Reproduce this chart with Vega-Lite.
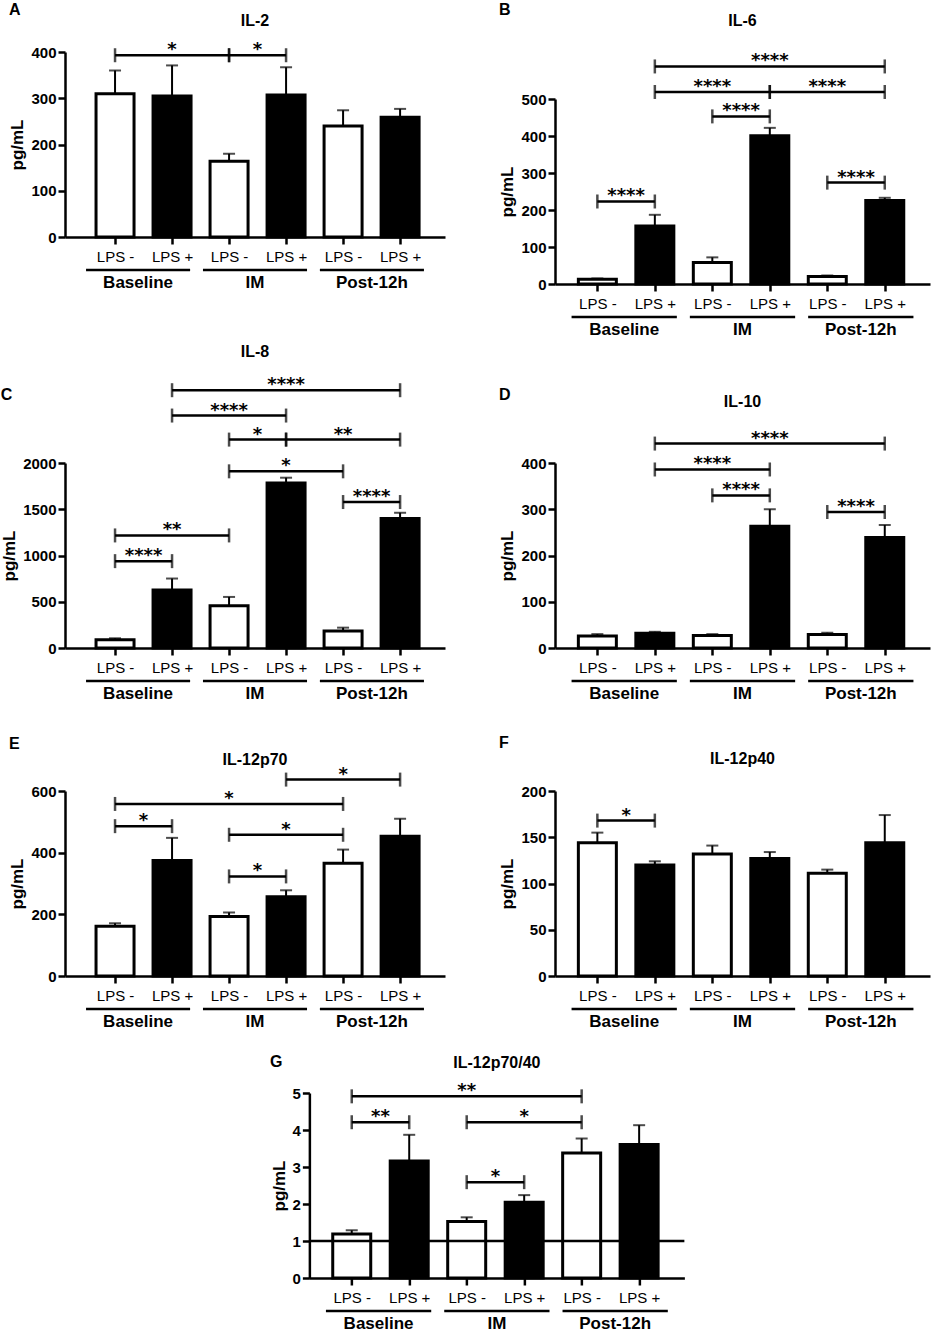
{
  "$schema": "https://vega.github.io/schema/vega-lite/v6.json",
  "padding": {"left": 0, "top": 2, "right": 5, "bottom": 2},
  "config": {
    "view": {"stroke": null},
    "font": "Liberation Sans",
    "title": {"fontSize": 16, "fontWeight": "bold", "color": "black", "font": "Liberation Sans"},
    "axis": {"domainColor": "black", "domainWidth": 2.5, "tickColor": "black", "tickWidth": 2.5, "tickSize": 7, "labelColor": "black", "labelFontSize": 15, "titleColor": "black", "grid": false, "labelFlush": false, "labelOverlap": false},
    "axisY": {"labelFontWeight": "bold", "labelPadding": 2, "titleFontSize": 17, "titleFontWeight": "bold", "titlePadding": 4},
    "axisX": {"labelPadding": 5, "labelFontWeight": "normal", "labelAngle": 0},
    "rule": {"color": "black"},
    "tick": {"color": "black"},
    "text": {"color": "black"}
  },
  "datasets": {
    "bars": [
      {"panel": "A", "bar": 1, "group": "Baseline", "lps": "LPS -", "mean": 310, "upper": 360},
      {"panel": "A", "bar": 2, "group": "Baseline", "lps": "LPS +", "mean": 305, "upper": 371},
      {"panel": "A", "bar": 3, "group": "IM", "lps": "LPS -", "mean": 164, "upper": 180},
      {"panel": "A", "bar": 4, "group": "IM", "lps": "LPS +", "mean": 307, "upper": 367},
      {"panel": "A", "bar": 5, "group": "Post-12h", "lps": "LPS -", "mean": 240, "upper": 274},
      {"panel": "A", "bar": 6, "group": "Post-12h", "lps": "LPS +", "mean": 259, "upper": 277},
      {"panel": "B", "bar": 1, "group": "Baseline", "lps": "LPS -", "mean": 13, "upper": 15},
      {"panel": "B", "bar": 2, "group": "Baseline", "lps": "LPS +", "mean": 157, "upper": 187},
      {"panel": "B", "bar": 3, "group": "IM", "lps": "LPS -", "mean": 58, "upper": 72},
      {"panel": "B", "bar": 4, "group": "IM", "lps": "LPS +", "mean": 401, "upper": 422},
      {"panel": "B", "bar": 5, "group": "Post-12h", "lps": "LPS -", "mean": 20, "upper": 23},
      {"panel": "B", "bar": 6, "group": "Post-12h", "lps": "LPS +", "mean": 226, "upper": 233},
      {"panel": "C", "bar": 1, "group": "Baseline", "lps": "LPS -", "mean": 90, "upper": 105},
      {"panel": "C", "bar": 2, "group": "Baseline", "lps": "LPS +", "mean": 628, "upper": 751},
      {"panel": "C", "bar": 3, "group": "IM", "lps": "LPS -", "mean": 458, "upper": 552},
      {"panel": "C", "bar": 4, "group": "IM", "lps": "LPS +", "mean": 1783, "upper": 1841},
      {"panel": "C", "bar": 5, "group": "Post-12h", "lps": "LPS -", "mean": 184, "upper": 220},
      {"panel": "C", "bar": 6, "group": "Post-12h", "lps": "LPS +", "mean": 1401, "upper": 1462},
      {"panel": "D", "bar": 1, "group": "Baseline", "lps": "LPS -", "mean": 26, "upper": 30},
      {"panel": "D", "bar": 2, "group": "Baseline", "lps": "LPS +", "mean": 32, "upper": 35},
      {"panel": "D", "bar": 3, "group": "IM", "lps": "LPS -", "mean": 27, "upper": 30},
      {"panel": "D", "bar": 4, "group": "IM", "lps": "LPS +", "mean": 263, "upper": 300},
      {"panel": "D", "bar": 5, "group": "Post-12h", "lps": "LPS -", "mean": 29, "upper": 33},
      {"panel": "D", "bar": 6, "group": "Post-12h", "lps": "LPS +", "mean": 239, "upper": 266},
      {"panel": "E", "bar": 1, "group": "Baseline", "lps": "LPS -", "mean": 161, "upper": 171},
      {"panel": "E", "bar": 2, "group": "Baseline", "lps": "LPS +", "mean": 375, "upper": 448},
      {"panel": "E", "bar": 3, "group": "IM", "lps": "LPS -", "mean": 193, "upper": 206},
      {"panel": "E", "bar": 4, "group": "IM", "lps": "LPS +", "mean": 257, "upper": 278},
      {"panel": "E", "bar": 5, "group": "Post-12h", "lps": "LPS -", "mean": 366, "upper": 410},
      {"panel": "E", "bar": 6, "group": "Post-12h", "lps": "LPS +", "mean": 453, "upper": 510},
      {"panel": "F", "bar": 1, "group": "Baseline", "lps": "LPS -", "mean": 144, "upper": 155},
      {"panel": "F", "bar": 2, "group": "Baseline", "lps": "LPS +", "mean": 120, "upper": 124},
      {"panel": "F", "bar": 3, "group": "IM", "lps": "LPS -", "mean": 132, "upper": 141},
      {"panel": "F", "bar": 4, "group": "IM", "lps": "LPS +", "mean": 127, "upper": 134},
      {"panel": "F", "bar": 5, "group": "Post-12h", "lps": "LPS -", "mean": 111, "upper": 115},
      {"panel": "F", "bar": 6, "group": "Post-12h", "lps": "LPS +", "mean": 144, "upper": 174},
      {"panel": "G", "bar": 1, "group": "Baseline", "lps": "LPS -", "mean": 1.19, "upper": 1.29},
      {"panel": "G", "bar": 2, "group": "Baseline", "lps": "LPS +", "mean": 3.16, "upper": 3.87},
      {"panel": "G", "bar": 3, "group": "IM", "lps": "LPS -", "mean": 1.53, "upper": 1.64},
      {"panel": "G", "bar": 4, "group": "IM", "lps": "LPS +", "mean": 2.05, "upper": 2.24},
      {"panel": "G", "bar": 5, "group": "Post-12h", "lps": "LPS -", "mean": 3.38, "upper": 3.77},
      {"panel": "G", "bar": 6, "group": "Post-12h", "lps": "LPS +", "mean": 3.61, "upper": 4.13}
    ],
    "brackets": [
      {"panel": "A", "from": 1, "to": 3, "y": 393, "label": "*"},
      {"panel": "A", "from": 3, "to": 4, "y": 393, "label": "*"},
      {"panel": "B", "from": 1, "to": 2, "y": 223, "label": "****"},
      {"panel": "B", "from": 3, "to": 4, "y": 453, "label": "****"},
      {"panel": "B", "from": 2, "to": 4, "y": 519, "label": "****"},
      {"panel": "B", "from": 4, "to": 6, "y": 519, "label": "****"},
      {"panel": "B", "from": 2, "to": 6, "y": 588, "label": "****"},
      {"panel": "B", "from": 5, "to": 6, "y": 274, "label": "****"},
      {"panel": "C", "from": 1, "to": 2, "y": 939, "label": "****"},
      {"panel": "C", "from": 1, "to": 3, "y": 1217, "label": "**"},
      {"panel": "C", "from": 3, "to": 5, "y": 1910, "label": "*"},
      {"panel": "C", "from": 5, "to": 6, "y": 1578, "label": "****"},
      {"panel": "C", "from": 3, "to": 4, "y": 2253, "label": "*"},
      {"panel": "C", "from": 4, "to": 6, "y": 2253, "label": "**"},
      {"panel": "C", "from": 2, "to": 4, "y": 2513, "label": "****"},
      {"panel": "C", "from": 2, "to": 6, "y": 2787, "label": "****"},
      {"panel": "D", "from": 2, "to": 6, "y": 442, "label": "****"},
      {"panel": "D", "from": 2, "to": 4, "y": 386, "label": "****"},
      {"panel": "D", "from": 3, "to": 4, "y": 330, "label": "****"},
      {"panel": "D", "from": 5, "to": 6, "y": 294, "label": "****"},
      {"panel": "E", "from": 1, "to": 2, "y": 486, "label": "*"},
      {"panel": "E", "from": 1, "to": 5, "y": 558, "label": "*"},
      {"panel": "E", "from": 3, "to": 4, "y": 323, "label": "*"},
      {"panel": "E", "from": 3, "to": 5, "y": 458, "label": "*"},
      {"panel": "E", "from": 4, "to": 6, "y": 637, "label": "*"},
      {"panel": "F", "from": 1, "to": 2, "y": 168, "label": "*"},
      {"panel": "G", "from": 1, "to": 5, "y": 4.91, "label": "**"},
      {"panel": "G", "from": 1, "to": 2, "y": 4.21, "label": "**"},
      {"panel": "G", "from": 3, "to": 5, "y": 4.21, "label": "*"},
      {"panel": "G", "from": 3, "to": 4, "y": 2.59, "label": "*"}
    ],
    "groups": [{"group": "Baseline"}, {"group": "IM"}, {"group": "Post-12h"}]
  },
  "spacing": 33,
  "vconcat": [
    {
      "spacing": 6,
      "vconcat": [
        {
          "spacing": 53,
          "hconcat": [
            {
              "title": {"text": "A", "anchor": "start", "offset": -5},
              "spacing": 12,
              "vconcat": [
                {"width": 380, "height": 16, "data": {"values": [{"name": "IL-2"}]}, "mark": {"type": "text", "fontSize": 16, "fontWeight": "bold"}, "encoding": {"text": {"field": "name"}}},
                {
                  "spacing": 0,
                  "vconcat": [
                    {
                      "width": 380, "height": 185,
                      "layer": [
                        {"data": {"name": "bars"}, "transform": [{"filter": "datum.panel === 'A'"}], "mark": {"type": "rule", "strokeWidth": 2},
                         "encoding": {"x": {"field": "bar", "type": "quantitative", "scale": {"domain": [0.21, 6.7], "nice": false, "zero": false}, "title": null, "axis": {"values": [1, 2, 3, 4, 5, 6], "labelExpr": "datum.value % 2 === 1 ? 'LPS -' : 'LPS +'"}}, "y": {"field": "mean", "type": "quantitative", "scale": {"domain": [0, 400], "nice": false}, "title": "pg/mL", "axis": {"values": [0, 100, 200, 300, 400], "format": "d"}}, "y2": {"field": "upper"}}},
                        {"data": {"name": "bars"}, "transform": [{"filter": "datum.panel === 'A'"}], "mark": {"type": "tick", "orient": "horizontal", "size": 12, "thickness": 2},
                         "encoding": {"x": {"field": "bar", "type": "quantitative", "scale": {"domain": [0.21, 6.7], "nice": false, "zero": false}, "title": null, "axis": {"values": [1, 2, 3, 4, 5, 6], "labelExpr": "datum.value % 2 === 1 ? 'LPS -' : 'LPS +'"}}, "y": {"field": "upper", "type": "quantitative", "scale": {"domain": [0, 400], "nice": false}, "title": "pg/mL", "axis": {"values": [0, 100, 200, 300, 400], "format": "d"}}}},
                        {"data": {"name": "bars"}, "transform": [{"filter": "datum.panel === 'A'"}], "mark": {"type": "bar", "orient": "vertical", "width": 38, "stroke": "black", "strokeWidth": 3},
                         "encoding": {"x": {"field": "bar", "type": "quantitative", "scale": {"domain": [0.21, 6.7], "nice": false, "zero": false}, "title": null, "axis": {"values": [1, 2, 3, 4, 5, 6], "labelExpr": "datum.value % 2 === 1 ? 'LPS -' : 'LPS +'"}}, "y": {"field": "mean", "type": "quantitative", "scale": {"domain": [0, 400], "nice": false}, "title": "pg/mL", "axis": {"values": [0, 100, 200, 300, 400], "format": "d"}}, "fill": {"field": "lps", "type": "nominal", "scale": {"domain": ["LPS -", "LPS +"], "range": ["white", "black"]}, "legend": null}}},
                        {"data": {"name": "brackets"}, "transform": [{"filter": "datum.panel === 'A'"}], "mark": {"type": "rule", "strokeWidth": 2.5},
                         "encoding": {"x": {"field": "from", "type": "quantitative", "scale": {"domain": [0.21, 6.7], "nice": false, "zero": false}, "title": null, "axis": {"values": [1, 2, 3, 4, 5, 6], "labelExpr": "datum.value % 2 === 1 ? 'LPS -' : 'LPS +'"}}, "x2": {"field": "to"}, "y": {"field": "y", "type": "quantitative", "scale": {"domain": [0, 400], "nice": false}, "title": "pg/mL", "axis": {"values": [0, 100, 200, 300, 400], "format": "d"}}}},
                        {"data": {"name": "brackets"}, "transform": [{"filter": "datum.panel === 'A'"}], "mark": {"type": "tick", "orient": "vertical", "size": 14, "thickness": 2.5},
                         "encoding": {"x": {"field": "from", "type": "quantitative", "scale": {"domain": [0.21, 6.7], "nice": false, "zero": false}, "title": null, "axis": {"values": [1, 2, 3, 4, 5, 6], "labelExpr": "datum.value % 2 === 1 ? 'LPS -' : 'LPS +'"}}, "y": {"field": "y", "type": "quantitative", "scale": {"domain": [0, 400], "nice": false}, "title": "pg/mL", "axis": {"values": [0, 100, 200, 300, 400], "format": "d"}}}},
                        {"data": {"name": "brackets"}, "transform": [{"filter": "datum.panel === 'A'"}], "mark": {"type": "tick", "orient": "vertical", "size": 14, "thickness": 2.5},
                         "encoding": {"x": {"field": "to", "type": "quantitative", "scale": {"domain": [0.21, 6.7], "nice": false, "zero": false}, "title": null, "axis": {"values": [1, 2, 3, 4, 5, 6], "labelExpr": "datum.value % 2 === 1 ? 'LPS -' : 'LPS +'"}}, "y": {"field": "y", "type": "quantitative", "scale": {"domain": [0, 400], "nice": false}, "title": "pg/mL", "axis": {"values": [0, 100, 200, 300, 400], "format": "d"}}}},
                        {"data": {"name": "brackets"}, "transform": [{"filter": "datum.panel === 'A'"}, {"calculate": "(datum.from + datum.to) / 2", "as": "mid"}], "mark": {"type": "text", "font": "DejaVu Sans", "fontSize": 18, "fontWeight": "bold", "baseline": "alphabetic"},
                         "encoding": {"x": {"field": "mid", "type": "quantitative", "scale": {"domain": [0.21, 6.7], "nice": false, "zero": false}, "title": null, "axis": {"values": [1, 2, 3, 4, 5, 6], "labelExpr": "datum.value % 2 === 1 ? 'LPS -' : 'LPS +'"}}, "y": {"field": "y", "type": "quantitative", "scale": {"domain": [0, 400], "nice": false}, "title": "pg/mL", "axis": {"values": [0, 100, 200, 300, 400], "format": "d"}}, "text": {"field": "label"}}}
                      ]
                    },
                    {
                      "width": 380, "height": 12, "data": {"name": "groups"},
                      "layer": [
                        {"mark": {"type": "rule", "strokeWidth": 2.5}, "encoding": {"x": {"field": "group", "type": "nominal", "sort": null, "bandPosition": 0, "scale": {"type": "band", "paddingInner": 0.11, "paddingOuter": 0.18}, "axis": null}, "x2": {"field": "group", "bandPosition": 1}}},
                        {"mark": {"type": "text", "baseline": "top", "dy": 5, "fontSize": 17, "fontWeight": "bold"}, "encoding": {"x": {"field": "group", "type": "nominal", "sort": null, "scale": {"type": "band", "paddingInner": 0.11, "paddingOuter": 0.18}, "axis": null}, "text": {"field": "group"}}}
                      ]
                    }
                  ]
                }
              ]
            },
            {
              "title": {"text": "B", "anchor": "start", "offset": -5},
              "spacing": 23,
              "vconcat": [
                {"width": 375, "height": 16, "data": {"values": [{"name": "IL-6"}]}, "mark": {"type": "text", "fontSize": 16, "fontWeight": "bold"}, "encoding": {"text": {"field": "name"}}},
                {
                  "spacing": 0,
                  "vconcat": [
                    {
                      "width": 375, "height": 185,
                      "layer": [
                        {"data": {"name": "bars"}, "transform": [{"filter": "datum.panel === 'B'"}], "mark": {"type": "rule", "strokeWidth": 2},
                         "encoding": {"x": {"field": "bar", "type": "quantitative", "scale": {"domain": [0.35, 6.7], "nice": false, "zero": false}, "title": null, "axis": {"values": [1, 2, 3, 4, 5, 6], "labelExpr": "datum.value % 2 === 1 ? 'LPS -' : 'LPS +'"}}, "y": {"field": "mean", "type": "quantitative", "scale": {"domain": [0, 500], "nice": false}, "title": "pg/mL", "axis": {"values": [0, 100, 200, 300, 400, 500], "format": "d"}}, "y2": {"field": "upper"}}},
                        {"data": {"name": "bars"}, "transform": [{"filter": "datum.panel === 'B'"}], "mark": {"type": "tick", "orient": "horizontal", "size": 12, "thickness": 2},
                         "encoding": {"x": {"field": "bar", "type": "quantitative", "scale": {"domain": [0.35, 6.7], "nice": false, "zero": false}, "title": null, "axis": {"values": [1, 2, 3, 4, 5, 6], "labelExpr": "datum.value % 2 === 1 ? 'LPS -' : 'LPS +'"}}, "y": {"field": "upper", "type": "quantitative", "scale": {"domain": [0, 500], "nice": false}, "title": "pg/mL", "axis": {"values": [0, 100, 200, 300, 400, 500], "format": "d"}}}},
                        {"data": {"name": "bars"}, "transform": [{"filter": "datum.panel === 'B'"}], "mark": {"type": "bar", "orient": "vertical", "width": 38, "stroke": "black", "strokeWidth": 3},
                         "encoding": {"x": {"field": "bar", "type": "quantitative", "scale": {"domain": [0.35, 6.7], "nice": false, "zero": false}, "title": null, "axis": {"values": [1, 2, 3, 4, 5, 6], "labelExpr": "datum.value % 2 === 1 ? 'LPS -' : 'LPS +'"}}, "y": {"field": "mean", "type": "quantitative", "scale": {"domain": [0, 500], "nice": false}, "title": "pg/mL", "axis": {"values": [0, 100, 200, 300, 400, 500], "format": "d"}}, "fill": {"field": "lps", "type": "nominal", "scale": {"domain": ["LPS -", "LPS +"], "range": ["white", "black"]}, "legend": null}}},
                        {"data": {"name": "brackets"}, "transform": [{"filter": "datum.panel === 'B'"}], "mark": {"type": "rule", "strokeWidth": 2.5},
                         "encoding": {"x": {"field": "from", "type": "quantitative", "scale": {"domain": [0.35, 6.7], "nice": false, "zero": false}, "title": null, "axis": {"values": [1, 2, 3, 4, 5, 6], "labelExpr": "datum.value % 2 === 1 ? 'LPS -' : 'LPS +'"}}, "x2": {"field": "to"}, "y": {"field": "y", "type": "quantitative", "scale": {"domain": [0, 500], "nice": false}, "title": "pg/mL", "axis": {"values": [0, 100, 200, 300, 400, 500], "format": "d"}}}},
                        {"data": {"name": "brackets"}, "transform": [{"filter": "datum.panel === 'B'"}], "mark": {"type": "tick", "orient": "vertical", "size": 14, "thickness": 2.5},
                         "encoding": {"x": {"field": "from", "type": "quantitative", "scale": {"domain": [0.35, 6.7], "nice": false, "zero": false}, "title": null, "axis": {"values": [1, 2, 3, 4, 5, 6], "labelExpr": "datum.value % 2 === 1 ? 'LPS -' : 'LPS +'"}}, "y": {"field": "y", "type": "quantitative", "scale": {"domain": [0, 500], "nice": false}, "title": "pg/mL", "axis": {"values": [0, 100, 200, 300, 400, 500], "format": "d"}}}},
                        {"data": {"name": "brackets"}, "transform": [{"filter": "datum.panel === 'B'"}], "mark": {"type": "tick", "orient": "vertical", "size": 14, "thickness": 2.5},
                         "encoding": {"x": {"field": "to", "type": "quantitative", "scale": {"domain": [0.35, 6.7], "nice": false, "zero": false}, "title": null, "axis": {"values": [1, 2, 3, 4, 5, 6], "labelExpr": "datum.value % 2 === 1 ? 'LPS -' : 'LPS +'"}}, "y": {"field": "y", "type": "quantitative", "scale": {"domain": [0, 500], "nice": false}, "title": "pg/mL", "axis": {"values": [0, 100, 200, 300, 400, 500], "format": "d"}}}},
                        {"data": {"name": "brackets"}, "transform": [{"filter": "datum.panel === 'B'"}, {"calculate": "(datum.from + datum.to) / 2", "as": "mid"}], "mark": {"type": "text", "font": "DejaVu Sans", "fontSize": 18, "fontWeight": "bold", "baseline": "alphabetic"},
                         "encoding": {"x": {"field": "mid", "type": "quantitative", "scale": {"domain": [0.35, 6.7], "nice": false, "zero": false}, "title": null, "axis": {"values": [1, 2, 3, 4, 5, 6], "labelExpr": "datum.value % 2 === 1 ? 'LPS -' : 'LPS +'"}}, "y": {"field": "y", "type": "quantitative", "scale": {"domain": [0, 500], "nice": false}, "title": "pg/mL", "axis": {"values": [0, 100, 200, 300, 400, 500], "format": "d"}}, "text": {"field": "label"}}}
                      ]
                    },
                    {
                      "width": 375, "height": 12, "data": {"name": "groups"},
                      "layer": [
                        {"mark": {"type": "rule", "strokeWidth": 2.5}, "encoding": {"x": {"field": "group", "type": "nominal", "sort": null, "bandPosition": 0, "scale": {"type": "band", "paddingInner": 0.11, "paddingOuter": 0.14}, "axis": null}, "x2": {"field": "group", "bandPosition": 1}}},
                        {"mark": {"type": "text", "baseline": "top", "dy": 5, "fontSize": 17, "fontWeight": "bold"}, "encoding": {"x": {"field": "group", "type": "nominal", "sort": null, "scale": {"type": "band", "paddingInner": 0.11, "paddingOuter": 0.14}, "axis": null}, "text": {"field": "group"}}}
                      ]
                    }
                  ]
                }
              ]
            }
          ]
        },
        {
          "spacing": 53,
          "hconcat": [
            {
              "title": {"text": "C", "anchor": "start", "offset": -59},
              "spacing": 0,
              "vconcat": [
                {
                  "width": 380, "height": 185,
                  "title": {"text": "IL-8", "offset": 16},
                  "layer": [
                    {"data": {"name": "bars"}, "transform": [{"filter": "datum.panel === 'C'"}], "mark": {"type": "rule", "strokeWidth": 2},
                     "encoding": {"x": {"field": "bar", "type": "quantitative", "scale": {"domain": [0.21, 6.7], "nice": false, "zero": false}, "title": null, "axis": {"values": [1, 2, 3, 4, 5, 6], "labelExpr": "datum.value % 2 === 1 ? 'LPS -' : 'LPS +'"}}, "y": {"field": "mean", "type": "quantitative", "scale": {"domain": [0, 2000], "nice": false}, "title": "pg/mL", "axis": {"values": [0, 500, 1000, 1500, 2000], "format": "d"}}, "y2": {"field": "upper"}}},
                    {"data": {"name": "bars"}, "transform": [{"filter": "datum.panel === 'C'"}], "mark": {"type": "tick", "orient": "horizontal", "size": 12, "thickness": 2},
                     "encoding": {"x": {"field": "bar", "type": "quantitative", "scale": {"domain": [0.21, 6.7], "nice": false, "zero": false}, "title": null, "axis": {"values": [1, 2, 3, 4, 5, 6], "labelExpr": "datum.value % 2 === 1 ? 'LPS -' : 'LPS +'"}}, "y": {"field": "upper", "type": "quantitative", "scale": {"domain": [0, 2000], "nice": false}, "title": "pg/mL", "axis": {"values": [0, 500, 1000, 1500, 2000], "format": "d"}}}},
                    {"data": {"name": "bars"}, "transform": [{"filter": "datum.panel === 'C'"}], "mark": {"type": "bar", "orient": "vertical", "width": 38, "stroke": "black", "strokeWidth": 3},
                     "encoding": {"x": {"field": "bar", "type": "quantitative", "scale": {"domain": [0.21, 6.7], "nice": false, "zero": false}, "title": null, "axis": {"values": [1, 2, 3, 4, 5, 6], "labelExpr": "datum.value % 2 === 1 ? 'LPS -' : 'LPS +'"}}, "y": {"field": "mean", "type": "quantitative", "scale": {"domain": [0, 2000], "nice": false}, "title": "pg/mL", "axis": {"values": [0, 500, 1000, 1500, 2000], "format": "d"}}, "fill": {"field": "lps", "type": "nominal", "scale": {"domain": ["LPS -", "LPS +"], "range": ["white", "black"]}, "legend": null}}},
                    {"data": {"name": "brackets"}, "transform": [{"filter": "datum.panel === 'C'"}], "mark": {"type": "rule", "strokeWidth": 2.5},
                     "encoding": {"x": {"field": "from", "type": "quantitative", "scale": {"domain": [0.21, 6.7], "nice": false, "zero": false}, "title": null, "axis": {"values": [1, 2, 3, 4, 5, 6], "labelExpr": "datum.value % 2 === 1 ? 'LPS -' : 'LPS +'"}}, "x2": {"field": "to"}, "y": {"field": "y", "type": "quantitative", "scale": {"domain": [0, 2000], "nice": false}, "title": "pg/mL", "axis": {"values": [0, 500, 1000, 1500, 2000], "format": "d"}}}},
                    {"data": {"name": "brackets"}, "transform": [{"filter": "datum.panel === 'C'"}], "mark": {"type": "tick", "orient": "vertical", "size": 14, "thickness": 2.5},
                     "encoding": {"x": {"field": "from", "type": "quantitative", "scale": {"domain": [0.21, 6.7], "nice": false, "zero": false}, "title": null, "axis": {"values": [1, 2, 3, 4, 5, 6], "labelExpr": "datum.value % 2 === 1 ? 'LPS -' : 'LPS +'"}}, "y": {"field": "y", "type": "quantitative", "scale": {"domain": [0, 2000], "nice": false}, "title": "pg/mL", "axis": {"values": [0, 500, 1000, 1500, 2000], "format": "d"}}}},
                    {"data": {"name": "brackets"}, "transform": [{"filter": "datum.panel === 'C'"}], "mark": {"type": "tick", "orient": "vertical", "size": 14, "thickness": 2.5},
                     "encoding": {"x": {"field": "to", "type": "quantitative", "scale": {"domain": [0.21, 6.7], "nice": false, "zero": false}, "title": null, "axis": {"values": [1, 2, 3, 4, 5, 6], "labelExpr": "datum.value % 2 === 1 ? 'LPS -' : 'LPS +'"}}, "y": {"field": "y", "type": "quantitative", "scale": {"domain": [0, 2000], "nice": false}, "title": "pg/mL", "axis": {"values": [0, 500, 1000, 1500, 2000], "format": "d"}}}},
                    {"data": {"name": "brackets"}, "transform": [{"filter": "datum.panel === 'C'"}, {"calculate": "(datum.from + datum.to) / 2", "as": "mid"}], "mark": {"type": "text", "font": "DejaVu Sans", "fontSize": 18, "fontWeight": "bold", "baseline": "alphabetic"},
                     "encoding": {"x": {"field": "mid", "type": "quantitative", "scale": {"domain": [0.21, 6.7], "nice": false, "zero": false}, "title": null, "axis": {"values": [1, 2, 3, 4, 5, 6], "labelExpr": "datum.value % 2 === 1 ? 'LPS -' : 'LPS +'"}}, "y": {"field": "y", "type": "quantitative", "scale": {"domain": [0, 2000], "nice": false}, "title": "pg/mL", "axis": {"values": [0, 500, 1000, 1500, 2000], "format": "d"}}, "text": {"field": "label"}}}
                  ]
                },
                {
                  "width": 380, "height": 12, "data": {"name": "groups"},
                  "layer": [
                    {"mark": {"type": "rule", "strokeWidth": 2.5}, "encoding": {"x": {"field": "group", "type": "nominal", "sort": null, "bandPosition": 0, "scale": {"type": "band", "paddingInner": 0.11, "paddingOuter": 0.18}, "axis": null}, "x2": {"field": "group", "bandPosition": 1}}},
                    {"mark": {"type": "text", "baseline": "top", "dy": 5, "fontSize": 17, "fontWeight": "bold"}, "encoding": {"x": {"field": "group", "type": "nominal", "sort": null, "scale": {"type": "band", "paddingInner": 0.11, "paddingOuter": 0.18}, "axis": null}, "text": {"field": "group"}}}
                  ]
                }
              ]
            },
            {
              "title": {"text": "D", "anchor": "start", "offset": -9},
              "spacing": 0,
              "vconcat": [
                {
                  "width": 375, "height": 185,
                  "title": {"text": "IL-10", "offset": 20},
                  "layer": [
                    {"data": {"name": "bars"}, "transform": [{"filter": "datum.panel === 'D'"}], "mark": {"type": "rule", "strokeWidth": 2},
                     "encoding": {"x": {"field": "bar", "type": "quantitative", "scale": {"domain": [0.35, 6.7], "nice": false, "zero": false}, "title": null, "axis": {"values": [1, 2, 3, 4, 5, 6], "labelExpr": "datum.value % 2 === 1 ? 'LPS -' : 'LPS +'"}}, "y": {"field": "mean", "type": "quantitative", "scale": {"domain": [0, 400], "nice": false}, "title": "pg/mL", "axis": {"values": [0, 100, 200, 300, 400], "format": "d"}}, "y2": {"field": "upper"}}},
                    {"data": {"name": "bars"}, "transform": [{"filter": "datum.panel === 'D'"}], "mark": {"type": "tick", "orient": "horizontal", "size": 12, "thickness": 2},
                     "encoding": {"x": {"field": "bar", "type": "quantitative", "scale": {"domain": [0.35, 6.7], "nice": false, "zero": false}, "title": null, "axis": {"values": [1, 2, 3, 4, 5, 6], "labelExpr": "datum.value % 2 === 1 ? 'LPS -' : 'LPS +'"}}, "y": {"field": "upper", "type": "quantitative", "scale": {"domain": [0, 400], "nice": false}, "title": "pg/mL", "axis": {"values": [0, 100, 200, 300, 400], "format": "d"}}}},
                    {"data": {"name": "bars"}, "transform": [{"filter": "datum.panel === 'D'"}], "mark": {"type": "bar", "orient": "vertical", "width": 38, "stroke": "black", "strokeWidth": 3},
                     "encoding": {"x": {"field": "bar", "type": "quantitative", "scale": {"domain": [0.35, 6.7], "nice": false, "zero": false}, "title": null, "axis": {"values": [1, 2, 3, 4, 5, 6], "labelExpr": "datum.value % 2 === 1 ? 'LPS -' : 'LPS +'"}}, "y": {"field": "mean", "type": "quantitative", "scale": {"domain": [0, 400], "nice": false}, "title": "pg/mL", "axis": {"values": [0, 100, 200, 300, 400], "format": "d"}}, "fill": {"field": "lps", "type": "nominal", "scale": {"domain": ["LPS -", "LPS +"], "range": ["white", "black"]}, "legend": null}}},
                    {"data": {"name": "brackets"}, "transform": [{"filter": "datum.panel === 'D'"}], "mark": {"type": "rule", "strokeWidth": 2.5},
                     "encoding": {"x": {"field": "from", "type": "quantitative", "scale": {"domain": [0.35, 6.7], "nice": false, "zero": false}, "title": null, "axis": {"values": [1, 2, 3, 4, 5, 6], "labelExpr": "datum.value % 2 === 1 ? 'LPS -' : 'LPS +'"}}, "x2": {"field": "to"}, "y": {"field": "y", "type": "quantitative", "scale": {"domain": [0, 400], "nice": false}, "title": "pg/mL", "axis": {"values": [0, 100, 200, 300, 400], "format": "d"}}}},
                    {"data": {"name": "brackets"}, "transform": [{"filter": "datum.panel === 'D'"}], "mark": {"type": "tick", "orient": "vertical", "size": 14, "thickness": 2.5},
                     "encoding": {"x": {"field": "from", "type": "quantitative", "scale": {"domain": [0.35, 6.7], "nice": false, "zero": false}, "title": null, "axis": {"values": [1, 2, 3, 4, 5, 6], "labelExpr": "datum.value % 2 === 1 ? 'LPS -' : 'LPS +'"}}, "y": {"field": "y", "type": "quantitative", "scale": {"domain": [0, 400], "nice": false}, "title": "pg/mL", "axis": {"values": [0, 100, 200, 300, 400], "format": "d"}}}},
                    {"data": {"name": "brackets"}, "transform": [{"filter": "datum.panel === 'D'"}], "mark": {"type": "tick", "orient": "vertical", "size": 14, "thickness": 2.5},
                     "encoding": {"x": {"field": "to", "type": "quantitative", "scale": {"domain": [0.35, 6.7], "nice": false, "zero": false}, "title": null, "axis": {"values": [1, 2, 3, 4, 5, 6], "labelExpr": "datum.value % 2 === 1 ? 'LPS -' : 'LPS +'"}}, "y": {"field": "y", "type": "quantitative", "scale": {"domain": [0, 400], "nice": false}, "title": "pg/mL", "axis": {"values": [0, 100, 200, 300, 400], "format": "d"}}}},
                    {"data": {"name": "brackets"}, "transform": [{"filter": "datum.panel === 'D'"}, {"calculate": "(datum.from + datum.to) / 2", "as": "mid"}], "mark": {"type": "text", "font": "DejaVu Sans", "fontSize": 18, "fontWeight": "bold", "baseline": "alphabetic"},
                     "encoding": {"x": {"field": "mid", "type": "quantitative", "scale": {"domain": [0.35, 6.7], "nice": false, "zero": false}, "title": null, "axis": {"values": [1, 2, 3, 4, 5, 6], "labelExpr": "datum.value % 2 === 1 ? 'LPS -' : 'LPS +'"}}, "y": {"field": "y", "type": "quantitative", "scale": {"domain": [0, 400], "nice": false}, "title": "pg/mL", "axis": {"values": [0, 100, 200, 300, 400], "format": "d"}}, "text": {"field": "label"}}}
                  ]
                },
                {
                  "width": 375, "height": 12, "data": {"name": "groups"},
                  "layer": [
                    {"mark": {"type": "rule", "strokeWidth": 2.5}, "encoding": {"x": {"field": "group", "type": "nominal", "sort": null, "bandPosition": 0, "scale": {"type": "band", "paddingInner": 0.11, "paddingOuter": 0.14}, "axis": null}, "x2": {"field": "group", "bandPosition": 1}}},
                    {"mark": {"type": "text", "baseline": "top", "dy": 5, "fontSize": 17, "fontWeight": "bold"}, "encoding": {"x": {"field": "group", "type": "nominal", "sort": null, "scale": {"type": "band", "paddingInner": 0.11, "paddingOuter": 0.14}, "axis": null}, "text": {"field": "group"}}}
                  ]
                }
              ]
            }
          ]
        }
      ]
    },
    {
      "spacing": 24,
      "center": true,
      "vconcat": [
        {
          "spacing": 53,
          "hconcat": [
            {
              "title": {"text": "E", "anchor": "start", "offset": 0},
              "spacing": 0,
              "vconcat": [
                {
                  "width": 380, "height": 185,
                  "title": {"text": "IL-12p70", "offset": -2},
                  "layer": [
                    {"data": {"name": "bars"}, "transform": [{"filter": "datum.panel === 'E'"}], "mark": {"type": "rule", "strokeWidth": 2},
                     "encoding": {"x": {"field": "bar", "type": "quantitative", "scale": {"domain": [0.21, 6.7], "nice": false, "zero": false}, "title": null, "axis": {"values": [1, 2, 3, 4, 5, 6], "labelExpr": "datum.value % 2 === 1 ? 'LPS -' : 'LPS +'"}}, "y": {"field": "mean", "type": "quantitative", "scale": {"domain": [0, 600], "nice": false}, "title": "pg/mL", "axis": {"values": [0, 200, 400, 600], "format": "d"}}, "y2": {"field": "upper"}}},
                    {"data": {"name": "bars"}, "transform": [{"filter": "datum.panel === 'E'"}], "mark": {"type": "tick", "orient": "horizontal", "size": 12, "thickness": 2},
                     "encoding": {"x": {"field": "bar", "type": "quantitative", "scale": {"domain": [0.21, 6.7], "nice": false, "zero": false}, "title": null, "axis": {"values": [1, 2, 3, 4, 5, 6], "labelExpr": "datum.value % 2 === 1 ? 'LPS -' : 'LPS +'"}}, "y": {"field": "upper", "type": "quantitative", "scale": {"domain": [0, 600], "nice": false}, "title": "pg/mL", "axis": {"values": [0, 200, 400, 600], "format": "d"}}}},
                    {"data": {"name": "bars"}, "transform": [{"filter": "datum.panel === 'E'"}], "mark": {"type": "bar", "orient": "vertical", "width": 38, "stroke": "black", "strokeWidth": 3},
                     "encoding": {"x": {"field": "bar", "type": "quantitative", "scale": {"domain": [0.21, 6.7], "nice": false, "zero": false}, "title": null, "axis": {"values": [1, 2, 3, 4, 5, 6], "labelExpr": "datum.value % 2 === 1 ? 'LPS -' : 'LPS +'"}}, "y": {"field": "mean", "type": "quantitative", "scale": {"domain": [0, 600], "nice": false}, "title": "pg/mL", "axis": {"values": [0, 200, 400, 600], "format": "d"}}, "fill": {"field": "lps", "type": "nominal", "scale": {"domain": ["LPS -", "LPS +"], "range": ["white", "black"]}, "legend": null}}},
                    {"data": {"name": "brackets"}, "transform": [{"filter": "datum.panel === 'E'"}], "mark": {"type": "rule", "strokeWidth": 2.5},
                     "encoding": {"x": {"field": "from", "type": "quantitative", "scale": {"domain": [0.21, 6.7], "nice": false, "zero": false}, "title": null, "axis": {"values": [1, 2, 3, 4, 5, 6], "labelExpr": "datum.value % 2 === 1 ? 'LPS -' : 'LPS +'"}}, "x2": {"field": "to"}, "y": {"field": "y", "type": "quantitative", "scale": {"domain": [0, 600], "nice": false}, "title": "pg/mL", "axis": {"values": [0, 200, 400, 600], "format": "d"}}}},
                    {"data": {"name": "brackets"}, "transform": [{"filter": "datum.panel === 'E'"}], "mark": {"type": "tick", "orient": "vertical", "size": 14, "thickness": 2.5},
                     "encoding": {"x": {"field": "from", "type": "quantitative", "scale": {"domain": [0.21, 6.7], "nice": false, "zero": false}, "title": null, "axis": {"values": [1, 2, 3, 4, 5, 6], "labelExpr": "datum.value % 2 === 1 ? 'LPS -' : 'LPS +'"}}, "y": {"field": "y", "type": "quantitative", "scale": {"domain": [0, 600], "nice": false}, "title": "pg/mL", "axis": {"values": [0, 200, 400, 600], "format": "d"}}}},
                    {"data": {"name": "brackets"}, "transform": [{"filter": "datum.panel === 'E'"}], "mark": {"type": "tick", "orient": "vertical", "size": 14, "thickness": 2.5},
                     "encoding": {"x": {"field": "to", "type": "quantitative", "scale": {"domain": [0.21, 6.7], "nice": false, "zero": false}, "title": null, "axis": {"values": [1, 2, 3, 4, 5, 6], "labelExpr": "datum.value % 2 === 1 ? 'LPS -' : 'LPS +'"}}, "y": {"field": "y", "type": "quantitative", "scale": {"domain": [0, 600], "nice": false}, "title": "pg/mL", "axis": {"values": [0, 200, 400, 600], "format": "d"}}}},
                    {"data": {"name": "brackets"}, "transform": [{"filter": "datum.panel === 'E'"}, {"calculate": "(datum.from + datum.to) / 2", "as": "mid"}], "mark": {"type": "text", "font": "DejaVu Sans", "fontSize": 18, "fontWeight": "bold", "baseline": "alphabetic"},
                     "encoding": {"x": {"field": "mid", "type": "quantitative", "scale": {"domain": [0.21, 6.7], "nice": false, "zero": false}, "title": null, "axis": {"values": [1, 2, 3, 4, 5, 6], "labelExpr": "datum.value % 2 === 1 ? 'LPS -' : 'LPS +'"}}, "y": {"field": "y", "type": "quantitative", "scale": {"domain": [0, 600], "nice": false}, "title": "pg/mL", "axis": {"values": [0, 200, 400, 600], "format": "d"}}, "text": {"field": "label"}}}
                  ]
                },
                {
                  "width": 380, "height": 12, "data": {"name": "groups"},
                  "layer": [
                    {"mark": {"type": "rule", "strokeWidth": 2.5}, "encoding": {"x": {"field": "group", "type": "nominal", "sort": null, "bandPosition": 0, "scale": {"type": "band", "paddingInner": 0.11, "paddingOuter": 0.18}, "axis": null}, "x2": {"field": "group", "bandPosition": 1}}},
                    {"mark": {"type": "text", "baseline": "top", "dy": 5, "fontSize": 17, "fontWeight": "bold"}, "encoding": {"x": {"field": "group", "type": "nominal", "sort": null, "scale": {"type": "band", "paddingInner": 0.11, "paddingOuter": 0.18}, "axis": null}, "text": {"field": "group"}}}
                  ]
                }
              ]
            },
            {
              "title": {"text": "F", "anchor": "start", "offset": 0},
              "spacing": 0,
              "vconcat": [
                {
                  "width": 375, "height": 185,
                  "title": {"text": "IL-12p40", "offset": 17},
                  "layer": [
                    {"data": {"name": "bars"}, "transform": [{"filter": "datum.panel === 'F'"}], "mark": {"type": "rule", "strokeWidth": 2},
                     "encoding": {"x": {"field": "bar", "type": "quantitative", "scale": {"domain": [0.35, 6.7], "nice": false, "zero": false}, "title": null, "axis": {"values": [1, 2, 3, 4, 5, 6], "labelExpr": "datum.value % 2 === 1 ? 'LPS -' : 'LPS +'"}}, "y": {"field": "mean", "type": "quantitative", "scale": {"domain": [0, 200], "nice": false}, "title": "pg/mL", "axis": {"values": [0, 50, 100, 150, 200], "format": "d"}}, "y2": {"field": "upper"}}},
                    {"data": {"name": "bars"}, "transform": [{"filter": "datum.panel === 'F'"}], "mark": {"type": "tick", "orient": "horizontal", "size": 12, "thickness": 2},
                     "encoding": {"x": {"field": "bar", "type": "quantitative", "scale": {"domain": [0.35, 6.7], "nice": false, "zero": false}, "title": null, "axis": {"values": [1, 2, 3, 4, 5, 6], "labelExpr": "datum.value % 2 === 1 ? 'LPS -' : 'LPS +'"}}, "y": {"field": "upper", "type": "quantitative", "scale": {"domain": [0, 200], "nice": false}, "title": "pg/mL", "axis": {"values": [0, 50, 100, 150, 200], "format": "d"}}}},
                    {"data": {"name": "bars"}, "transform": [{"filter": "datum.panel === 'F'"}], "mark": {"type": "bar", "orient": "vertical", "width": 38, "stroke": "black", "strokeWidth": 3},
                     "encoding": {"x": {"field": "bar", "type": "quantitative", "scale": {"domain": [0.35, 6.7], "nice": false, "zero": false}, "title": null, "axis": {"values": [1, 2, 3, 4, 5, 6], "labelExpr": "datum.value % 2 === 1 ? 'LPS -' : 'LPS +'"}}, "y": {"field": "mean", "type": "quantitative", "scale": {"domain": [0, 200], "nice": false}, "title": "pg/mL", "axis": {"values": [0, 50, 100, 150, 200], "format": "d"}}, "fill": {"field": "lps", "type": "nominal", "scale": {"domain": ["LPS -", "LPS +"], "range": ["white", "black"]}, "legend": null}}},
                    {"data": {"name": "brackets"}, "transform": [{"filter": "datum.panel === 'F'"}], "mark": {"type": "rule", "strokeWidth": 2.5},
                     "encoding": {"x": {"field": "from", "type": "quantitative", "scale": {"domain": [0.35, 6.7], "nice": false, "zero": false}, "title": null, "axis": {"values": [1, 2, 3, 4, 5, 6], "labelExpr": "datum.value % 2 === 1 ? 'LPS -' : 'LPS +'"}}, "x2": {"field": "to"}, "y": {"field": "y", "type": "quantitative", "scale": {"domain": [0, 200], "nice": false}, "title": "pg/mL", "axis": {"values": [0, 50, 100, 150, 200], "format": "d"}}}},
                    {"data": {"name": "brackets"}, "transform": [{"filter": "datum.panel === 'F'"}], "mark": {"type": "tick", "orient": "vertical", "size": 14, "thickness": 2.5},
                     "encoding": {"x": {"field": "from", "type": "quantitative", "scale": {"domain": [0.35, 6.7], "nice": false, "zero": false}, "title": null, "axis": {"values": [1, 2, 3, 4, 5, 6], "labelExpr": "datum.value % 2 === 1 ? 'LPS -' : 'LPS +'"}}, "y": {"field": "y", "type": "quantitative", "scale": {"domain": [0, 200], "nice": false}, "title": "pg/mL", "axis": {"values": [0, 50, 100, 150, 200], "format": "d"}}}},
                    {"data": {"name": "brackets"}, "transform": [{"filter": "datum.panel === 'F'"}], "mark": {"type": "tick", "orient": "vertical", "size": 14, "thickness": 2.5},
                     "encoding": {"x": {"field": "to", "type": "quantitative", "scale": {"domain": [0.35, 6.7], "nice": false, "zero": false}, "title": null, "axis": {"values": [1, 2, 3, 4, 5, 6], "labelExpr": "datum.value % 2 === 1 ? 'LPS -' : 'LPS +'"}}, "y": {"field": "y", "type": "quantitative", "scale": {"domain": [0, 200], "nice": false}, "title": "pg/mL", "axis": {"values": [0, 50, 100, 150, 200], "format": "d"}}}},
                    {"data": {"name": "brackets"}, "transform": [{"filter": "datum.panel === 'F'"}, {"calculate": "(datum.from + datum.to) / 2", "as": "mid"}], "mark": {"type": "text", "font": "DejaVu Sans", "fontSize": 18, "fontWeight": "bold", "baseline": "alphabetic"},
                     "encoding": {"x": {"field": "mid", "type": "quantitative", "scale": {"domain": [0.35, 6.7], "nice": false, "zero": false}, "title": null, "axis": {"values": [1, 2, 3, 4, 5, 6], "labelExpr": "datum.value % 2 === 1 ? 'LPS -' : 'LPS +'"}}, "y": {"field": "y", "type": "quantitative", "scale": {"domain": [0, 200], "nice": false}, "title": "pg/mL", "axis": {"values": [0, 50, 100, 150, 200], "format": "d"}}, "text": {"field": "label"}}}
                  ]
                },
                {
                  "width": 375, "height": 12, "data": {"name": "groups"},
                  "layer": [
                    {"mark": {"type": "rule", "strokeWidth": 2.5}, "encoding": {"x": {"field": "group", "type": "nominal", "sort": null, "bandPosition": 0, "scale": {"type": "band", "paddingInner": 0.11, "paddingOuter": 0.14}, "axis": null}, "x2": {"field": "group", "bandPosition": 1}}},
                    {"mark": {"type": "text", "baseline": "top", "dy": 5, "fontSize": 17, "fontWeight": "bold"}, "encoding": {"x": {"field": "group", "type": "nominal", "sort": null, "scale": {"type": "band", "paddingInner": 0.11, "paddingOuter": 0.14}, "axis": null}, "text": {"field": "group"}}}
                  ]
                }
              ]
            }
          ]
        },
        {
          "title": {"text": "G", "anchor": "start", "offset": -15},
          "spacing": 0,
          "vconcat": [
            {
              "width": 375, "height": 185,
              "title": {"text": "IL-12p70/40", "offset": 11},
              "layer": [
                {"data": {"name": "bars"}, "transform": [{"filter": "datum.panel === 'G'"}], "mark": {"type": "rule", "strokeWidth": 2},
                 "encoding": {"x": {"field": "bar", "type": "quantitative", "scale": {"domain": [0.35, 6.7], "nice": false, "zero": false}, "title": null, "axis": {"values": [1, 2, 3, 4, 5, 6], "labelExpr": "datum.value % 2 === 1 ? 'LPS -' : 'LPS +'"}}, "y": {"field": "mean", "type": "quantitative", "scale": {"domain": [0, 5], "nice": false}, "title": "pg/mL", "axis": {"values": [0, 1, 2, 3, 4, 5], "format": "d"}}, "y2": {"field": "upper"}}},
                {"data": {"name": "bars"}, "transform": [{"filter": "datum.panel === 'G'"}], "mark": {"type": "tick", "orient": "horizontal", "size": 12, "thickness": 2},
                 "encoding": {"x": {"field": "bar", "type": "quantitative", "scale": {"domain": [0.35, 6.7], "nice": false, "zero": false}, "title": null, "axis": {"values": [1, 2, 3, 4, 5, 6], "labelExpr": "datum.value % 2 === 1 ? 'LPS -' : 'LPS +'"}}, "y": {"field": "upper", "type": "quantitative", "scale": {"domain": [0, 5], "nice": false}, "title": "pg/mL", "axis": {"values": [0, 1, 2, 3, 4, 5], "format": "d"}}}},
                {"data": {"name": "bars"}, "transform": [{"filter": "datum.panel === 'G'"}], "mark": {"type": "bar", "orient": "vertical", "width": 38, "stroke": "black", "strokeWidth": 3},
                 "encoding": {"x": {"field": "bar", "type": "quantitative", "scale": {"domain": [0.35, 6.7], "nice": false, "zero": false}, "title": null, "axis": {"values": [1, 2, 3, 4, 5, 6], "labelExpr": "datum.value % 2 === 1 ? 'LPS -' : 'LPS +'"}}, "y": {"field": "mean", "type": "quantitative", "scale": {"domain": [0, 5], "nice": false}, "title": "pg/mL", "axis": {"values": [0, 1, 2, 3, 4, 5], "format": "d"}}, "fill": {"field": "lps", "type": "nominal", "scale": {"domain": ["LPS -", "LPS +"], "range": ["white", "black"]}, "legend": null}}},
                {"data": {"values": [{"ref": 1}]}, "mark": {"type": "rule", "strokeWidth": 2.5},
                 "encoding": {"y": {"field": "ref", "type": "quantitative", "scale": {"domain": [0, 5], "nice": false}, "title": "pg/mL", "axis": {"values": [0, 1, 2, 3, 4, 5], "format": "d"}}}},
                {"data": {"name": "brackets"}, "transform": [{"filter": "datum.panel === 'G'"}], "mark": {"type": "rule", "strokeWidth": 2.5},
                 "encoding": {"x": {"field": "from", "type": "quantitative", "scale": {"domain": [0.35, 6.7], "nice": false, "zero": false}, "title": null, "axis": {"values": [1, 2, 3, 4, 5, 6], "labelExpr": "datum.value % 2 === 1 ? 'LPS -' : 'LPS +'"}}, "x2": {"field": "to"}, "y": {"field": "y", "type": "quantitative", "scale": {"domain": [0, 5], "nice": false}, "title": "pg/mL", "axis": {"values": [0, 1, 2, 3, 4, 5], "format": "d"}}}},
                {"data": {"name": "brackets"}, "transform": [{"filter": "datum.panel === 'G'"}], "mark": {"type": "tick", "orient": "vertical", "size": 14, "thickness": 2.5},
                 "encoding": {"x": {"field": "from", "type": "quantitative", "scale": {"domain": [0.35, 6.7], "nice": false, "zero": false}, "title": null, "axis": {"values": [1, 2, 3, 4, 5, 6], "labelExpr": "datum.value % 2 === 1 ? 'LPS -' : 'LPS +'"}}, "y": {"field": "y", "type": "quantitative", "scale": {"domain": [0, 5], "nice": false}, "title": "pg/mL", "axis": {"values": [0, 1, 2, 3, 4, 5], "format": "d"}}}},
                {"data": {"name": "brackets"}, "transform": [{"filter": "datum.panel === 'G'"}], "mark": {"type": "tick", "orient": "vertical", "size": 14, "thickness": 2.5},
                 "encoding": {"x": {"field": "to", "type": "quantitative", "scale": {"domain": [0.35, 6.7], "nice": false, "zero": false}, "title": null, "axis": {"values": [1, 2, 3, 4, 5, 6], "labelExpr": "datum.value % 2 === 1 ? 'LPS -' : 'LPS +'"}}, "y": {"field": "y", "type": "quantitative", "scale": {"domain": [0, 5], "nice": false}, "title": "pg/mL", "axis": {"values": [0, 1, 2, 3, 4, 5], "format": "d"}}}},
                {"data": {"name": "brackets"}, "transform": [{"filter": "datum.panel === 'G'"}, {"calculate": "(datum.from + datum.to) / 2", "as": "mid"}], "mark": {"type": "text", "font": "DejaVu Sans", "fontSize": 18, "fontWeight": "bold", "baseline": "alphabetic"},
                 "encoding": {"x": {"field": "mid", "type": "quantitative", "scale": {"domain": [0.35, 6.7], "nice": false, "zero": false}, "title": null, "axis": {"values": [1, 2, 3, 4, 5, 6], "labelExpr": "datum.value % 2 === 1 ? 'LPS -' : 'LPS +'"}}, "y": {"field": "y", "type": "quantitative", "scale": {"domain": [0, 5], "nice": false}, "title": "pg/mL", "axis": {"values": [0, 1, 2, 3, 4, 5], "format": "d"}}, "text": {"field": "label"}}}
              ]
            },
            {
              "width": 375, "height": 12, "data": {"name": "groups"},
              "layer": [
                {"mark": {"type": "rule", "strokeWidth": 2.5}, "encoding": {"x": {"field": "group", "type": "nominal", "sort": null, "bandPosition": 0, "scale": {"type": "band", "paddingInner": 0.11, "paddingOuter": 0.14}, "axis": null}, "x2": {"field": "group", "bandPosition": 1}}},
                {"mark": {"type": "text", "baseline": "top", "dy": 5, "fontSize": 17, "fontWeight": "bold"}, "encoding": {"x": {"field": "group", "type": "nominal", "sort": null, "scale": {"type": "band", "paddingInner": 0.11, "paddingOuter": 0.14}, "axis": null}, "text": {"field": "group"}}}
              ]
            }
          ]
        }
      ]
    }
  ]
}
